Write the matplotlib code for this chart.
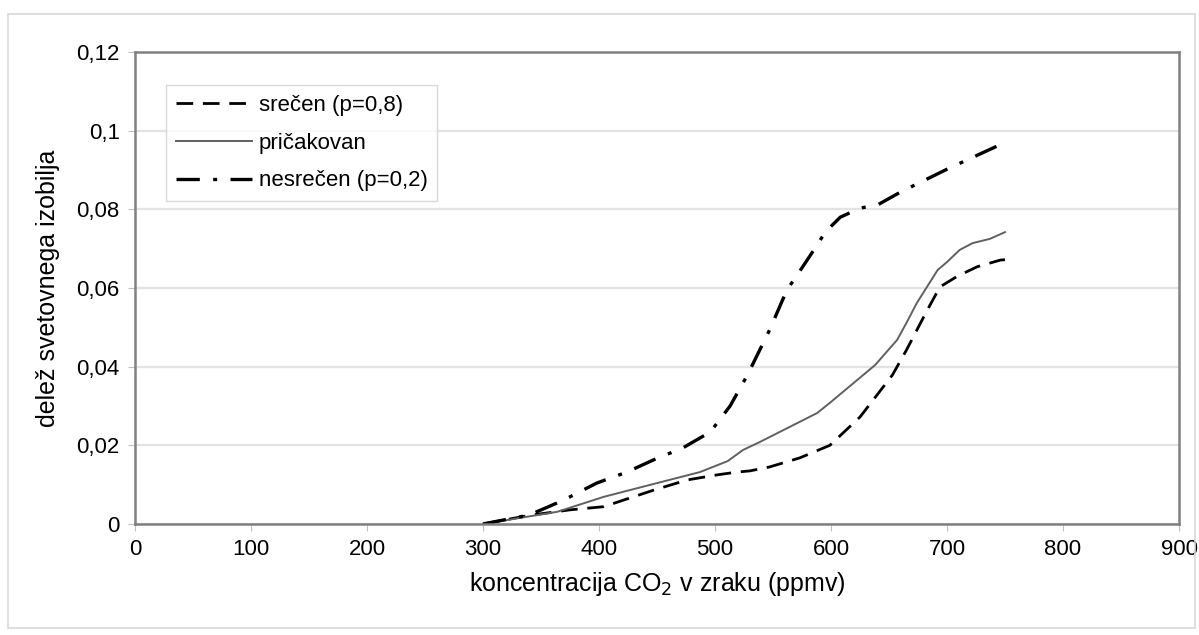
import numpy as np
import matplotlib
matplotlib.use('Agg')
import matplotlib.pyplot as plt
from matplotlib.patches import Rectangle
from matplotlib.ticker import FuncFormatter

plt.rcParams['font.family'] = ['Liberation Sans', 'DejaVu Sans']

# srečen (p=0,8)
x_sre = [300, 340, 375, 404, 447, 476, 502, 519, 530, 547, 573, 599, 625, 653, 665, 683, 694, 709, 726, 746, 750]
y_sre = [0, 0.0022, 0.0036, 0.0044, 0.0086, 0.0112, 0.0125, 0.0132, 0.0135, 0.0145, 0.0168, 0.020, 0.0272, 0.0379, 0.0442, 0.0544, 0.0603, 0.063, 0.0654, 0.0671, 0.0672]

# pričakovan
x_pri = [300, 364, 404, 450, 487, 511, 524, 539, 588, 599, 638, 657, 665, 674, 692, 700, 711, 722, 737, 750]
y_pri = [0, 0.0031, 0.0069, 0.0104, 0.0132, 0.016, 0.0188, 0.0209, 0.0282, 0.0308, 0.0404, 0.0468, 0.0511, 0.0562, 0.0646, 0.0666, 0.0697, 0.0714, 0.0725, 0.0742]

# nesrečen (p=0,2)
x_nes = [300, 340, 369, 398, 424, 450, 472, 496, 513, 528, 547, 562, 572, 588, 595, 608, 625, 640, 660, 700, 750]
y_nes = [0, 0.0023, 0.006, 0.0104, 0.0132, 0.0167, 0.0193, 0.0234, 0.030, 0.0379, 0.0493, 0.0595, 0.0638, 0.0709, 0.0742, 0.078, 0.0803, 0.0811, 0.0844, 0.0902, 0.097]

fig = plt.figure(figsize=(11.99, 6.35), dpi=100)
fig.patches.append(Rectangle((8/1199, 7/635), 1187/1199, 614/635, transform=fig.transFigure,
                             fill=False, edgecolor='#d9d9d9', linewidth=1.2))
ax = fig.add_axes([135/1199, 1-524/635, 1044/1199, 472/635])

ax.plot(x_sre, y_sre, color='black', linewidth=2.0, linestyle=(0, (6, 3.5)), label='srečen (p=0,8)')
ax.plot(x_pri, y_pri, color='#606060', linewidth=1.4, linestyle='-', label='pričakovan')
ax.plot(x_nes, y_nes, color='black', linewidth=2.4, linestyle=(0, (7, 4, 1.2, 4)), label='nesrečen (p=0,2)')

ax.set_xlim(0, 900)
ax.set_ylim(0, 0.12)
ax.set_xticks(np.arange(0, 901, 100))
ax.set_yticks(np.arange(0, 0.121, 0.02))
ax.yaxis.set_major_formatter(FuncFormatter(lambda v, p: ('%g' % round(v, 2)).replace('.', ',')))
ax.grid(axis='y', color='#e3e3e3', linewidth=1.6)
ax.set_axisbelow(True)
for s in ax.spines.values():
    s.set_color('#808080')
    s.set_linewidth(1.8)
ax.tick_params(direction='out', length=5, color='#c0c0c0', labelsize=16, pad=6)

ax.set_xlabel('koncentracija CO$_2$ v zraku (ppmv)', fontsize=18, labelpad=7)
ax.set_ylabel('delež svetovnega izobilja', fontsize=18, labelpad=12)

leg = ax.legend(loc='upper left', bbox_to_anchor=(0.03, 0.93), fontsize=16, frameon=True,
                fancybox=False, edgecolor='#d0d0d0', handlelength=3.4, handletextpad=0.3,
                borderpad=0.45, labelspacing=0.75, borderaxespad=0)
leg.get_frame().set_linewidth(1.0)

fig.savefig('out.png', dpi=100)
